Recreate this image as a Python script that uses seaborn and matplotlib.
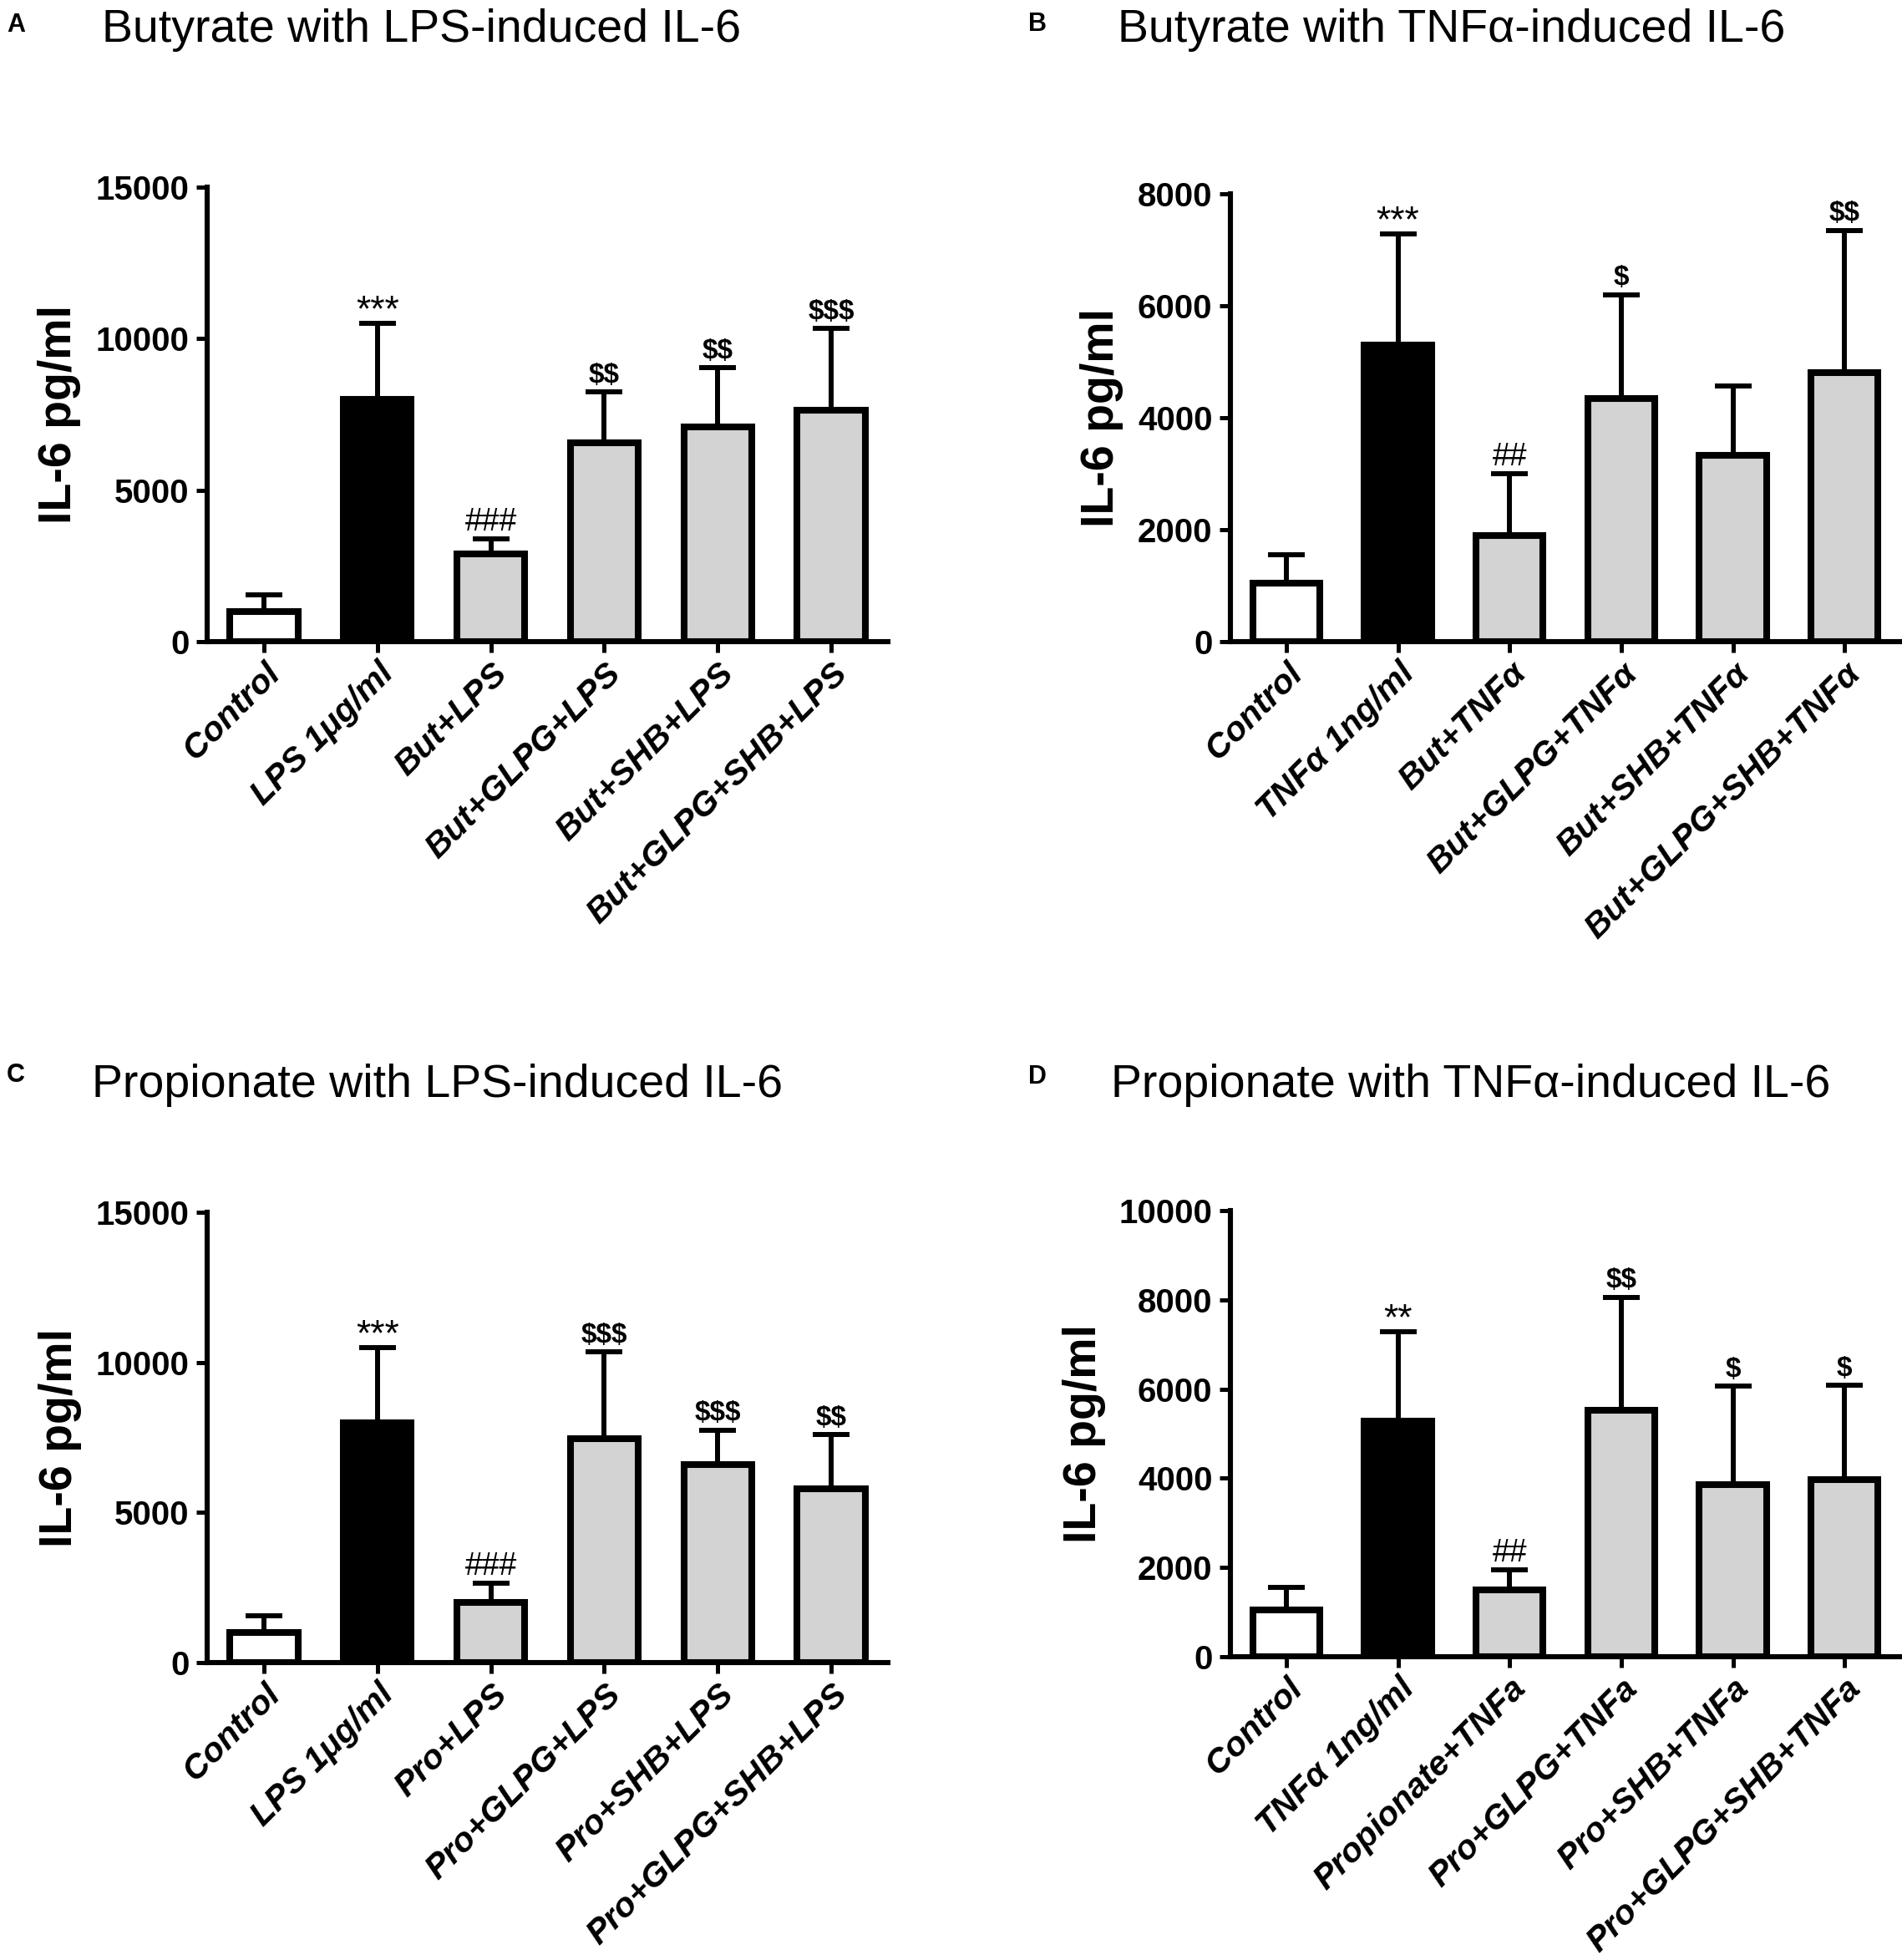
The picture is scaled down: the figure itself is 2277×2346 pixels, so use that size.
import numpy as np
import pandas as pd
import matplotlib
matplotlib.use('Agg')
import matplotlib.pyplot as plt
import seaborn as sns

# ---- data ----
labels_a = ['Control', 'LPS 1μg/ml', 'But+LPS', 'But+GLPG+LPS', 'But+SHB+LPS', 'But+GLPG+SHB+LPS']
mean_a = [1000, 8000, 2900, 6550, 7100, 7650]
top_a = [1550, 10500, 3400, 8250, 9050, 10350]
sig_a = ['', '***', '###', '$$', '$$', '$$$']

labels_b = ['Control', 'TNFα 1ng/ml', 'But+TNFα', 'But+GLPG+TNFα', 'But+SHB+TNFα', 'But+GLPG+SHB+TNFα']
mean_b = [1050, 5300, 1900, 4350, 3330, 4800]
top_b = [1550, 7280, 3000, 6200, 4570, 7350]
sig_b = ['', '***', '##', '$', '', '$$']

labels_c = ['Control', 'LPS 1μg/ml', 'Pro+LPS', 'Pro+GLPG+LPS', 'Pro+SHB+LPS', 'Pro+GLPG+SHB+LPS']
mean_c = [1000, 8000, 2000, 7450, 6600, 5800]
top_c = [1550, 10500, 2650, 10350, 7750, 7600]
sig_c = ['', '***', '###', '$$$', '$$$', '$$']

labels_d = ['Control', 'TNFα 1ng/ml', 'Propionate+TNFa', 'Pro+GLPG+TNFa', 'Pro+SHB+TNFa', 'Pro+GLPG+SHB+TNFa']
mean_d = [1050, 5280, 1500, 5520, 3850, 3970]
top_d = [1550, 7280, 1950, 8060, 6070, 6090]
sig_d = ['', '**', '##', '$$', '$', '$']

bar_colors = ['white', 'black', '#d3d3d3', '#d3d3d3', '#d3d3d3', '#d3d3d3']

sns.set_style('ticks')
plt.rcParams['font.family'] = ['Liberation Sans', 'DejaVu Sans']
plt.rcParams['text.color'] = 'black'
plt.rcParams['axes.labelcolor'] = 'black'
plt.rcParams['xtick.color'] = 'black'
plt.rcParams['ytick.color'] = 'black'

fig = plt.figure(figsize=(22.77, 23.46), dpi=100)

# text style of the significance marks: size, weight, baseline offset (pt)
sig_style = {'*': (32, 'normal', 2), '#': (27, 'normal', 7), '$': (24, 'bold', 8)}


def panel(rect, labels, means, tops, sigs, ymax, step, letter, title, letter_xy, title_xy, ylab_x):
    ax = fig.add_axes(rect)
    df = pd.DataFrame({'group': labels, 'il6': means})
    sns.barplot(data=df, x='group', y='il6', hue='group', palette=dict(zip(labels, bar_colors)),
                legend=False, saturation=1, width=0.60, edgecolor='black', linewidth=5.8,
                errorbar=None, ax=ax, zorder=2)
    means = np.array(means)
    tops = np.array(tops)
    xs = np.arange(len(labels))
    ax.errorbar(xs, means, yerr=[np.zeros(len(xs)), tops - means], fmt='none', ecolor='black',
                elinewidth=4.3, capsize=16, capthick=4.3, zorder=1)
    for x, t, s in zip(xs, tops, sigs):
        if s:
            fs, fw, off = sig_style[s[0]]
            ax.annotate(s, (x, t), xytext=(0, off), textcoords='offset points', ha='center',
                        va='baseline', fontsize=fs, fontweight=fw, parse_math=False)
    ax.set_ylim(0, ymax)
    ax.set_xlim(-0.5, len(labels) - 0.5)
    ax.set_yticks(np.arange(0, ymax + 1, step))
    ax.set_yticklabels([str(int(v)) for v in np.arange(0, ymax + 1, step)], fontsize=29, fontweight='bold')
    ax.set_xticks(xs)
    ax.set_xticklabels(labels, rotation=45, ha='right', rotation_mode='anchor',
                       fontsize=29.5, fontweight='bold', fontstyle='italic')
    ax.tick_params(axis='both', width=3.6, length=9.5, direction='out', color='black')
    ax.tick_params(axis='y', pad=6)
    ax.tick_params(axis='x', pad=4)
    ax.set_xlabel('')
    ax.set_ylabel('IL-6 pg/ml', fontsize=40, fontweight='bold')
    ax.yaxis.set_label_coords(ylab_x, 0.5)
    sns.despine(ax=ax)
    for sp in ['left', 'bottom']:
        ax.spines[sp].set_linewidth(4.4)
        ax.spines[sp].set_color('black')
    ax.set_facecolor('white')
    fig.text(letter_xy[0], letter_xy[1], letter, fontsize=22, fontweight='bold', ha='left', va='baseline')
    fig.text(title_xy[0], title_xy[1], title, fontsize=40, ha='left', va='baseline')
    return ax


W, H = 2277, 2346
panel([248 / W, 1 - 768 / H, 815 / W, 544 / H], labels_a, mean_a, top_a, sig_a, 15000, 5000,
      'A', 'Butyrate with LPS-induced IL-6', (8 / W, 1 - 38 / H), (122 / W, 1 - 50 / H), -0.185)
panel([1473 / W, 1 - 768 / H, 802 / W, 536 / H], labels_b, mean_b, top_b, sig_b, 8000, 2000,
      'B', 'Butyrate with TNFα-induced IL-6', (1231 / W, 1 - 37 / H), (1338 / W, 1 - 50 / H), -0.160)
panel([248 / W, 1 - 1990 / H, 815 / W, 539 / H], labels_c, mean_c, top_c, sig_c, 15000, 5000,
      'C', 'Propionate with LPS-induced IL-6', (8 / W, 1 - 1295 / H), (110 / W, 1 - 1313 / H), -0.184)
panel([1473 / W, 1 - 1983 / H, 802 / W, 534 / H], labels_d, mean_d, top_d, sig_d, 10000, 2000,
      'D', 'Propionate with TNFα-induced IL-6', (1231 / W, 1 - 1297 / H), (1330 / W, 1 - 1313 / H), -0.186)

fig.savefig('out.png', dpi=100, facecolor='white')
